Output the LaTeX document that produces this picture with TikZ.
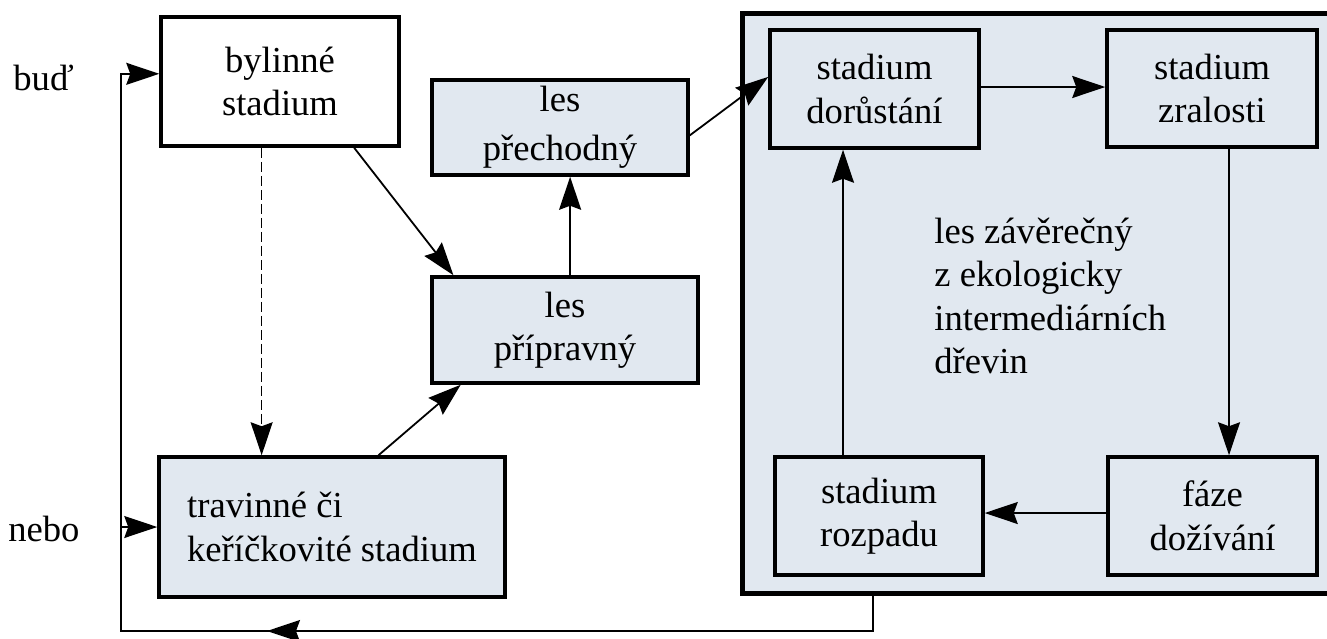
\documentclass[tikz,border=0pt]{standalone}
\usepackage{fontspec}
\setmainfont{Liberation Serif}
\usetikzlibrary{arrows.meta,calc}
\definecolor{shade}{RGB}{225,232,240}
\begin{document}
\begin{tikzpicture}[x=0.5pt,y=-0.5pt,
  every node/.style={font=\fontsize{18.3pt}{21.75pt}\selectfont, inner sep=0pt},
  stage/.style={draw, line width=1.75pt, fill=shade, align=center},
  tip/.style={-{Stealth[length=16.5pt,width=11pt,inset=2pt]}},
  conn/.style={line width=0.9pt, tip},
  link/.style={line width=0.75pt},
]
\useasboundingbox (0,0) rectangle (1327,638);

% climax forest frame (runs off the right edge)
\node[draw, line width=2.5pt, fill=shade, minimum width=299pt, minimum height=290pt] (forest) at (1041,303) {};

% succession stages
\node[stage, fill=white, minimum width=119pt, minimum height=64.5pt] (byl) at (280,81.5) {bylinné\\stadium};
\node[stage, minimum width=128pt, minimum height=47.5pt] (prech) at (560,127.5) {les\\[2.75pt]přechodný};
\node[stage, minimum width=133pt, minimum height=53pt] (prip) at (565,330) {les\\přípravný};
\node[stage, align=left, minimum width=173pt, minimum height=70pt] (trav) at (332,527) {travinné či\\keříčkovité stadium};

% cycle inside the climax forest
\node[stage, minimum width=104.5pt, minimum height=59pt] (dor) at (874.5,89) {stadium\\dorůstání};
\node[stage, minimum width=105pt, minimum height=58.5pt] (zral) at (1212,88.5) {stadium\\zralosti};
\node[stage, minimum width=104pt, minimum height=59pt] (rozp) at (879,516) {stadium\\rozpadu};
\node[stage, minimum width=104.5pt, minimum height=59pt] (doz) at (1212.5,516) {fáze\\dožívání};
\node[align=left, anchor=west] (climax) at (934,296) {les závěrečný\\z ekologicky\\intermediárních\\dřevin};

% side labels
\node[anchor=base west] (bud) at (13,90) {buď};
\node[anchor=base west] (nebo) at (8,541) {nebo};

% connectors between stages
\coordinate (bylOut) at ($(byl.south west)!0.807!(byl.south east)$);
\coordinate (pripInA) at ($(prip.north west)!0.086!(prip.north east)$);
\draw[conn] (bylOut) -- (pripInA);

\coordinate (travOut) at ($(trav.north west)!0.633!(trav.north east)$);
\coordinate (pripInB) at ($(prip.south west)!0.113!(prip.south east)$);
\draw[conn] (travOut) -- (pripInB);

\coordinate (pripOut) at ($(prip.north west)!0.519!(prip.north east)$);
\draw[conn] (pripOut) -- (pripOut |- prech.south);

\coordinate (prechOut) at ($(prech.north east)!0.58!(prech.south east)$);
\coordinate (dorIn) at ($(dor.north west)!0.4!(dor.south west)$);
\draw[conn] (prechOut) -- (dorIn);

\coordinate (dashTop) at ($(byl.south west)!0.424!(byl.south east)$);
\draw[line width=0.75pt, dash pattern=on 5pt off 2pt, tip] (dashTop) -- (dashTop |- trav.north);

\draw[conn] ([yshift=1pt]dor.east) -- ([yshift=1pt]dor.east -| zral.west);
\draw[link, tip] ([xshift=8.5pt]zral.south) -- ([xshift=8.5pt]zral.south |- doz.north);
\draw[conn] ([yshift=1.5pt]doz.west) -- ([yshift=1.5pt]doz.west -| rozp.east);
\draw[link, tip] ([xshift=-18pt]rozp.north) -- ([xshift=-18pt]rozp.north |- dor.south);

% return path from the climax forest back to the start
\coordinate (drop) at (873,593);
\coordinate (cornR) at (873,631);
\coordinate (cornL) at (121,631);
\coordinate (retTip) at (267,631);
\coordinate (bylIn) at ($(byl.north west)!0.442!(byl.south west)$);
\draw[link, tip] (drop) -- (cornR) -- (cornL) -- (cornL |- bylIn) -- (bylIn);
\draw[link, tip] (cornR) -- (retTip);
\draw[link, tip] (cornL |- trav.west) -- (trav.west);
\end{tikzpicture}
\end{document}
